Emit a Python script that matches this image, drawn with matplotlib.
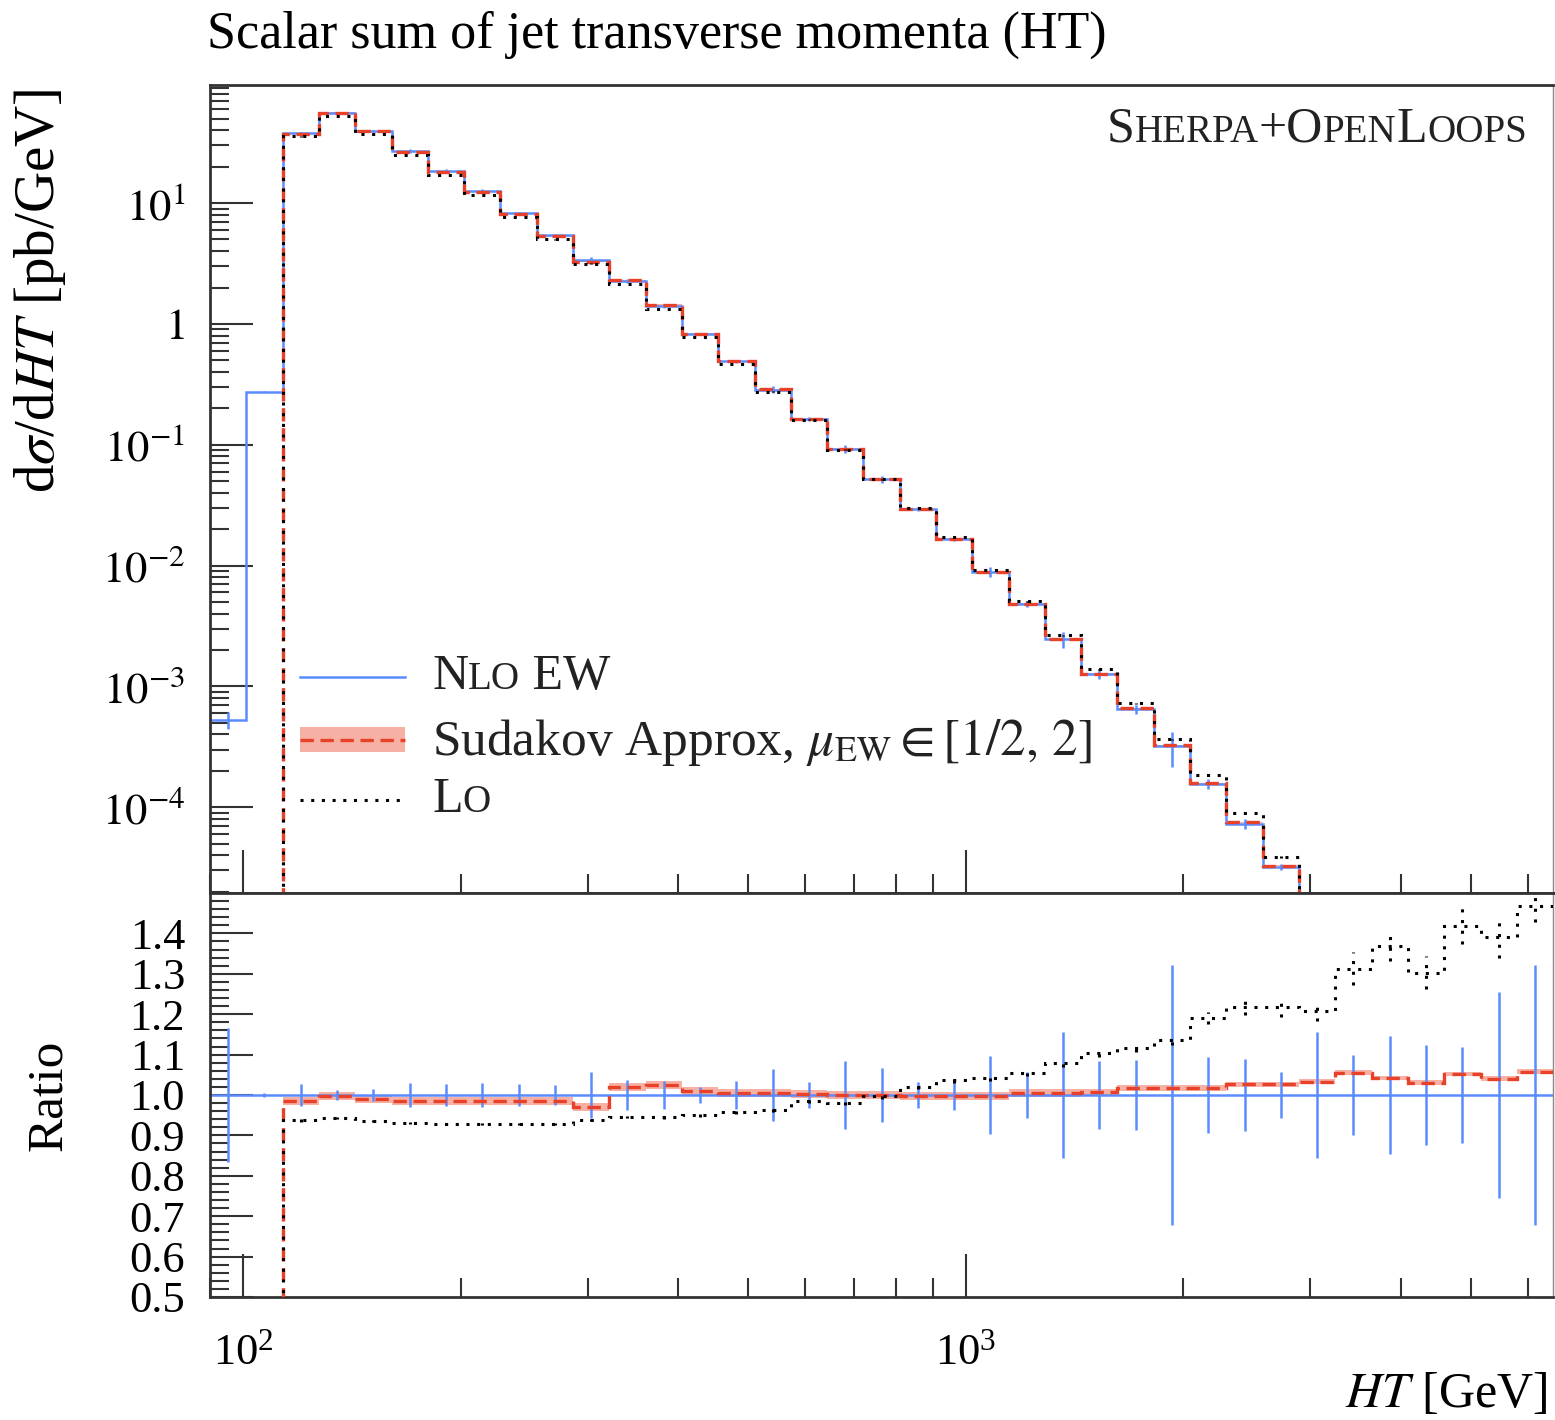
import numpy as np
import matplotlib
matplotlib.use("Agg")
import matplotlib.pyplot as plt
from matplotlib.patches import Rectangle
from matplotlib.offsetbox import TextArea, HPacker, AnchoredOffsetbox
from matplotlib.ticker import FixedLocator, FixedFormatter, LogLocator, MultipleLocator, NullFormatter

plt.rcParams['font.family'] = ['Liberation Serif', 'DejaVu Serif']
plt.rcParams['mathtext.fontset'] = 'stix'

# HT binning [GeV] (log-spaced bins)
ht_edges = [90.0, 101.0, 113.4, 127.3, 142.9, 160.5, 180.1, 202.2, 227.0, 254.9,
            286.2, 321.2, 360.6, 404.9, 454.5, 510.3, 572.8, 643.1, 722.0, 810.5,
            909.9, 1021.4, 1146.7, 1287.4, 1445.3, 1622.5, 1821.5, 2044.9, 2295.7,
            2577.3, 2893.4, 3248.2, 3646.6, 4093.8, 4596.0, 5159.6, 5792.4, 6500.0]

# NLO EW dsigma/dHT [pb/GeV]
nlo_ew = [5.3e-4, 0.275, 38, 56, 39.6, 27, 18.5, 12.6, 8.3, 5.4,
          3.37, 2.26, 1.40, 0.82, 0.489, 0.286, 0.164, 0.0927, 0.052, 0.0294,
          0.0166, 0.00883, 0.00479, 0.00245, 0.00126, 6.5e-4, 3.2e-4, 1.55e-4, 7.3e-5,
          3.2e-5, 1.5e-5, 7e-6, 3.2e-6, 1.5e-6, 7e-7, 3.2e-7, 1.5e-7]
# relative stat. uncertainty of NLO EW
nlo_err = [0.165, 0.005, 0.028, 0.013, 0.015, 0.03, 0.027, 0.03, 0.027, 0.025,
           0.058, 0.037, 0.035, 0.02, 0.035, 0.064, 0.033, 0.083, 0.066, 0.033,
           0.037, 0.097, 0.058, 0.155, 0.085, 0.087, 0.322, 0.095, 0.089, 0.056,
           0.155, 0.099, 0.145, 0.124, 0.12, 0.254, 0.322]

# Sudakov approx / NLO EW, with mu_EW band half-width
sudakov_ratio = [0, 0, 0.985, 0.997, 0.99, 0.985, 0.985, 0.985, 0.985, 0.985,
                 0.971, 1.02, 1.025, 1.01, 1.005, 1.005, 1.003, 1.0, 1.0, 0.998,
                 0.997, 0.997, 1.005, 1.005, 1.007, 1.017, 1.017, 1.017, 1.027, 1.027,
                 1.033, 1.055, 1.042, 1.03, 1.052, 1.04, 1.058]
sudakov_band = [0, 0, 0.01, 0.01, 0.01, 0.01, 0.01, 0.01, 0.01, 0.01,
                0.01, 0.01, 0.01, 0.01, 0.01, 0.01, 0.01, 0.01, 0.01, 0.01,
                0.01, 0.01, 0.009, 0.009, 0.008, 0.008, 0.007, 0.007, 0.006, 0.006,
                0.006, 0.006, 0.006, 0.006, 0.006, 0.006, 0.006]

# LO / NLO EW, with stat. uncertainty
lo_ratio = [0, 0, 0.937, 0.943, 0.935, 0.93, 0.928, 0.928, 0.928, 0.928,
            0.938, 0.945, 0.945, 0.95, 0.958, 0.963, 0.986, 0.981, 0.997, 1.02,
            1.037, 1.043, 1.055, 1.08, 1.104, 1.117, 1.137, 1.19, 1.218, 1.219,
            1.207, 1.313, 1.368, 1.303, 1.419, 1.39, 1.467]
lo_err = [0, 0, 0.003, 0.003, 0.003, 0.003, 0.003, 0.003, 0.003, 0.003,
          0.003, 0.003, 0.004, 0.004, 0.004, 0.005, 0.005, 0.005, 0.006, 0.006,
          0.007, 0.008, 0.008, 0.01, 0.01, 0.01, 0.012, 0.015, 0.02, 0.025,
          0.025, 0.04, 0.037, 0.04, 0.045, 0.05, 0.04]

BLUE = '#5b8cff'
RED = '#e8412a'
BAND = '#f6b0a4'
AXCOL = '#333333'
W, H = 1555, 1420

edges = np.array(ht_edges)
centres = np.sqrt(edges[:-1] * edges[1:])
nlo = np.array(nlo_ew)
nerr = np.array(nlo_err)
sud = np.array(sudakov_ratio)
sband = np.array(sudakov_band)
lor = np.array(lo_ratio)
loe = np.array(lo_err)
first = int(np.argmax(sud > 0))

fig = plt.figure(figsize=(W / 100, H / 100), dpi=100)
ax = fig.add_axes([210 / W, (H - 893) / H, 1343 / W, 808 / H])
axr = fig.add_axes([210 / W, (H - 1297) / H, 1343 / W, 404 / H], sharex=ax)

# ---- main panel
ax.set_xscale('log')
ax.set_yscale('log')
ax.stairs((nlo * (sud + sband))[first:], edges[first:], baseline=(nlo * (sud - sband))[first:],
          fill=True, color=BAND, lw=0, zorder=1)
ax.stairs(nlo, edges, baseline=None, color=BLUE, lw=1.8, zorder=2)
ax.vlines(centres, nlo * (1 - nerr), nlo * (1 + nerr), color=BLUE, lw=1.8, zorder=2)
ax.stairs(nlo * sud, edges, baseline=None, color=RED, lw=2.4, ls=(0, (4, 2)), zorder=3)
ax.stairs(nlo * lor, edges, baseline=None, color='black', lw=2.2, ls=(0, (1, 2.5)), zorder=4)
ax.vlines(centres[first:], (nlo * (lor - loe))[first:], (nlo * (lor + loe))[first:],
          color='black', lw=2.2, ls=(0, (1, 2.5)), zorder=4)

ax.set_xlim(90, 6500)
ax.set_ylim(1.95e-5, 95)
ax.yaxis.set_major_locator(FixedLocator([1e1, 1, 1e-1, 1e-2, 1e-3, 1e-4]))
ax.yaxis.set_major_formatter(FixedFormatter([r'$10^{1}$', r'$1$', r'$10^{-1}$', r'$10^{-2}$',
                                             r'$10^{-3}$', r'$10^{-4}$']))
ax.yaxis.set_minor_locator(LogLocator(base=10, subs=np.arange(2, 10), numticks=30))
ax.yaxis.set_minor_formatter(NullFormatter())
ax.set_ylabel(r'd$\sigma$/d$HT$ [pb/GeV]', fontsize=41, loc='top')
ax.yaxis.set_label_coords((68 - 210) / 1343, 0.995)

# ---- ratio panel
axr.stairs((sud + sband)[first:], edges[first:], baseline=(sud - sband)[first:],
           fill=True, color=BAND, lw=0, zorder=1)
axr.axhline(1.0, color=BLUE, lw=1.8, zorder=2)
axr.vlines(centres, 1 - nerr, 1 + nerr, color=BLUE, lw=1.8, zorder=2)
axr.stairs(sud, edges, baseline=None, color=RED, lw=2.4, ls=(0, (4, 2)), zorder=3)
axr.stairs(lor, edges, baseline=None, color='black', lw=2.2, ls=(0, (1, 2.5)), zorder=4)
axr.vlines(centres[first:], (lor - loe)[first:], (lor + loe)[first:],
           color='black', lw=2.2, ls=(0, (1, 2.5)), zorder=4)
axr.set_ylim(0.5, 1.5)
axr.yaxis.set_major_locator(FixedLocator([0.5, 0.6, 0.7, 0.8, 0.9, 1.0, 1.1, 1.2, 1.3, 1.4]))
axr.yaxis.set_major_formatter(FixedFormatter(['0.5', '0.6', '0.7', '0.8', '0.9', '1.0',
                                              '1.1', '1.2', '1.3', '1.4']))
axr.yaxis.set_minor_locator(MultipleLocator(0.02))
axr.set_ylabel('Ratio', fontsize=37)
axr.yaxis.set_label_coords((72 - 210) / 1343, 0.5)
axr.set_xlabel(r'$HT$ [GeV]', fontsize=36, loc='right')
axr.xaxis.set_label_coords(0.996, -(1372 - 1297) / 404)

for a in (ax, axr):
    a.xaxis.set_major_locator(FixedLocator([100, 1000]))
    a.xaxis.set_minor_locator(LogLocator(base=10, subs=np.arange(2, 10), numticks=30))
    a.xaxis.set_minor_formatter(NullFormatter())
    a.tick_params(which='both', direction='in', top=False, right=False,
                  color=AXCOL, width=1.5, labelsize=32)
    a.tick_params(which='major', length=31, pad=18)
    a.tick_params(which='minor', length=14)
    a.tick_params(axis='x', pad=26)
    for s in a.spines.values():
        s.set_linewidth(2.0)
        s.set_color(AXCOL)
    a.spines['right'].set_linewidth(1.0)
    a.spines['right'].set_color('#888888')
ax.tick_params(labelbottom=False)
axr.set_xlim(90, 6500)

fig.text(207 / W, 1 - 35 / H, 'Scalar sum of jet transverse momenta (HT)',
         fontsize=37.5, va='center', ha='left')


def small_caps(parts, size, ratio=0.78):
    boxes = [TextArea(t, textprops=dict(fontsize=size * (ratio if small else 1.0), color='#222222'))
             for t, small in parts]
    return HPacker(children=boxes, align='baseline', pad=0, sep=0)


def put_box(box, x, y, loc):
    anc = AnchoredOffsetbox(loc=loc, child=box, frameon=False, pad=0, borderpad=0,
                            bbox_to_anchor=(x, y), bbox_transform=ax.transAxes)
    ax.add_artist(anc)


put_box(small_caps([('S', 0), ('HERPA', 1), ('+O', 0), ('PEN', 1), ('L', 0), ('OOPS', 1)], 36),
        (1527 - 210) / 1343, (893 - 106) / 808, 'upper right')

# ---- hand-made legend
def ay(py):
    return (893 - py) / 808


def axx(px):
    return (px - 210) / 1343


x0, x1 = axx(300), axx(405)
ax.plot([x0, x1], [ay(677)] * 2, transform=ax.transAxes, color=BLUE, lw=1.8, clip_on=False)
ax.add_patch(Rectangle((x0, ay(752)), x1 - x0, ay(727) - ay(752), transform=ax.transAxes,
                       color=BAND, lw=0))
ax.plot([x0, x1], [ay(740)] * 2, transform=ax.transAxes, color=RED, lw=2.4, ls=(0, (4, 2)))
ax.plot([x0, x1], [ay(800)] * 2, transform=ax.transAxes, color='black', lw=2.2, ls=(0, (1, 2.5)))

put_box(small_caps([('N', 0), ('LO', 1), (' EW', 0)], 36), axx(432), ay(677), 'center left')
put_box(small_caps([(r'Sudakov Approx, $\mu_{\mathrm{EW}} \in [1/2,\,2]$', 0)], 37),
        axx(432), ay(743), 'center left')
put_box(small_caps([('L', 0), ('O', 1)], 36), axx(432), ay(800), 'center left')

fig.savefig('out.png', dpi=100)
